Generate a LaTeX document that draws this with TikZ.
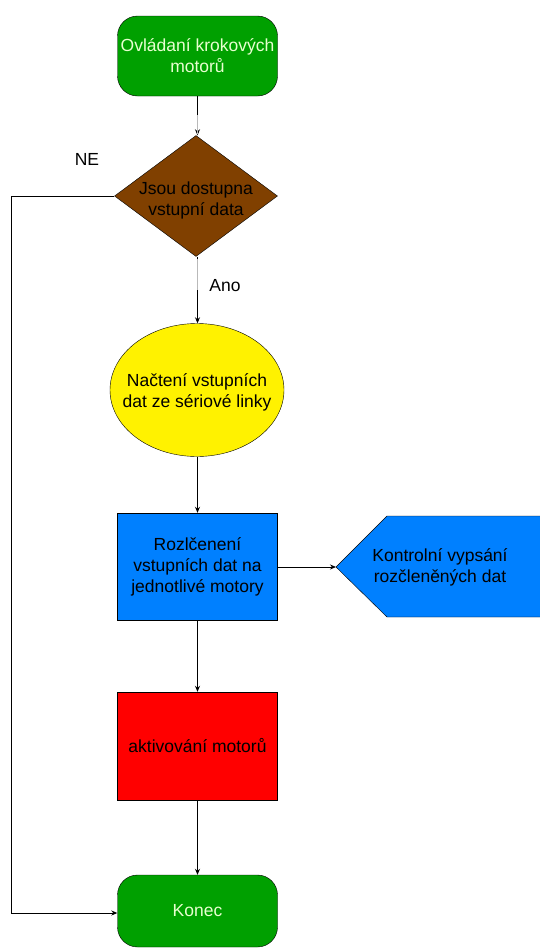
\documentclass[tikz,border=0pt]{standalone}
\usepackage{fontspec}
\setmainfont{Liberation Sans}
\usetikzlibrary{shapes.geometric,arrows.meta}
\definecolor{termgreen}{HTML}{00A000}
\definecolor{decbrown}{HTML}{804000}
\definecolor{procblue}{HTML}{0080FF}
\definecolor{lighttext}{HTML}{E8FFD0}
\begin{document}
\begin{tikzpicture}[x=1pt,y=-1pt,
  every node/.style={font=\fontsize{17.5}{21}\selectfont, align=center, inner sep=0pt},
  terminal/.style={draw=black, fill=termgreen, rounded corners=20pt, text=lighttext,
    minimum width=160pt},
  procbox/.style={draw=black, minimum width=160pt, minimum height=107pt},
  flow/.style={draw=black, line width=0.8pt, -{Stealth[length=6pt,width=5pt]}}]
\useasboundingbox (0,0) rectangle (539,948);

% start and end terminals
\node[terminal, minimum height=80pt] (start) at (197.5,56) {Ovládaní krokových\\motorů};
\node[terminal, minimum height=72pt] (konec) at (197.5,911) {Konec};

% decision
\node[diamond, draw=black, fill=decbrown, minimum width=163pt, minimum height=121pt,
  aspect=1.35, inner sep=0pt] (dec) at (196,196) {};
\node at (196,200) {Jsou dostupna\\vstupní data};

% reading from the serial line
\node[ellipse, draw=black, fill=yellow, minimum width=174pt, minimum height=133pt,
  inner sep=0pt] (read) at (197,390) {};
\node at (197,392) {Načtení vstupních\\dat ze sériové linky};

% processing boxes
\node[procbox, fill=procblue] (split) at (197.5,566.5) {Rozlčenení\\vstupních dat na\\jednotlivé motory};
\node[procbox, fill=red, minimum height=108pt] (act) at (197.5,746) {aktivování motorů};

% display output shape
\path[draw=black, fill=procblue] (336,567) -- (387,516) -- (545,516) -- (545,617) -- (387,617) -- cycle;
\coordinate (disp) at (336,567);
\node at (440,567) {Kontrolní vypsání\\rozčleněných dat};

% connectors
\draw[flow] (start.south) -- (start.south |- dec.north);
\draw[flow] (start.south |- dec.south) -- (start.south |- read.north);
\draw[flow] (start.south |- read.south) -- (split.north);
\draw[flow] (split.east |- disp) -- (disp);
\draw[flow] (split.south) -- (act.north);
\draw[flow] (act.south) -- (konec.north);
\draw[flow] (dec.west) -- (11,196) -- (11,913) -- (konec.west |- 0,913);

% light segments on the vertical connectors
\draw[gray!55, line width=0.8pt] (197.5,115) -- (197.5,134);
\draw[gray!55, line width=0.8pt] (197.5,259) -- (197.5,290);

% branch labels
\node (ne) at (87,159) {NE};
\node (ano) at (225,286) {Ano};
\end{tikzpicture}
\end{document}
